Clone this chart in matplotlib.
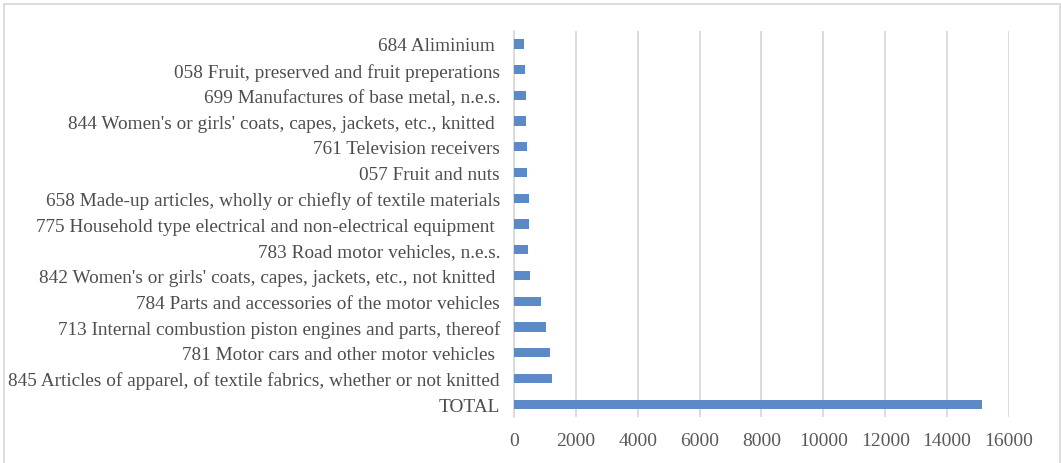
import matplotlib
matplotlib.use("Agg")
import matplotlib.pyplot as plt
from matplotlib.patches import Rectangle

# Export products, listed top to bottom
categories = [
    "684 Aliminium ",
    "058 Fruit, preserved and fruit preperations",
    "699 Manufactures of base metal, n.e.s.",
    "844 Women's or girls' coats, capes, jackets, etc., knitted ",
    "761 Television receivers",
    "057 Fruit and nuts",
    "658 Made-up articles, wholly or chiefly of textile materials",
    "775 Household type electrical and non-electrical equipment ",
    "783 Road motor vehicles, n.e.s.",
    "842 Women's or girls' coats, capes, jackets, etc., not knitted ",
    "784 Parts and accessories of the motor vehicles",
    "713 Internal combustion piston engines and parts, thereof",
    "781 Motor cars and other motor vehicles ",
    "845 Articles of apparel, of textile fabrics, whether or not knitted",
    "TOTAL",
]
values = [310, 355, 388, 380, 432, 430, 475, 475, 470, 507,
          885, 1046, 1163, 1240, 15130]
x_ticks = [0, 2000, 4000, 6000, 8000, 10000, 12000, 14000, 16000]

plt.rcParams["font.family"] = ["Liberation Serif", "DejaVu Serif"]

fig = plt.figure(figsize=(10.61, 4.64), dpi=100)
ax = fig.add_axes([0.4844, 0.0991, 0.951 - 0.4844, 0.931 - 0.0991])

# Outer chart border
fig.patches.append(Rectangle((0.0038, -0.02), 0.995, 1.009, transform=fig.transFigure,
                             fill=False, edgecolor="#d9d9d9", linewidth=1.3))

ypos = list(range(len(categories)))
ax.barh(ypos, values, height=0.36, color="#5b8ac6", zorder=3)

ax.set_xlim(0, 16000)
ax.set_ylim(len(categories) - 0.5, -0.5)
ax.set_xticks(x_ticks)
ax.set_xticklabels([str(t) for t in x_ticks])
ax.set_yticks(ypos)
ax.set_yticklabels(categories)

ax.tick_params(axis="x", length=0, pad=11, labelsize=14, labelcolor="#595959")
ax.tick_params(axis="y", length=0, pad=10, labelsize=13.9, labelcolor="#4d4d4d")

ax.grid(axis="x", color="#d9d9d9", linewidth=1.3, zorder=0)
for side in ["top", "right", "bottom"]:
    ax.spines[side].set_visible(False)
ax.spines["left"].set_color("#d9d9d9")
ax.spines["left"].set_linewidth(1.3)

fig.savefig("out.png", dpi=100)
